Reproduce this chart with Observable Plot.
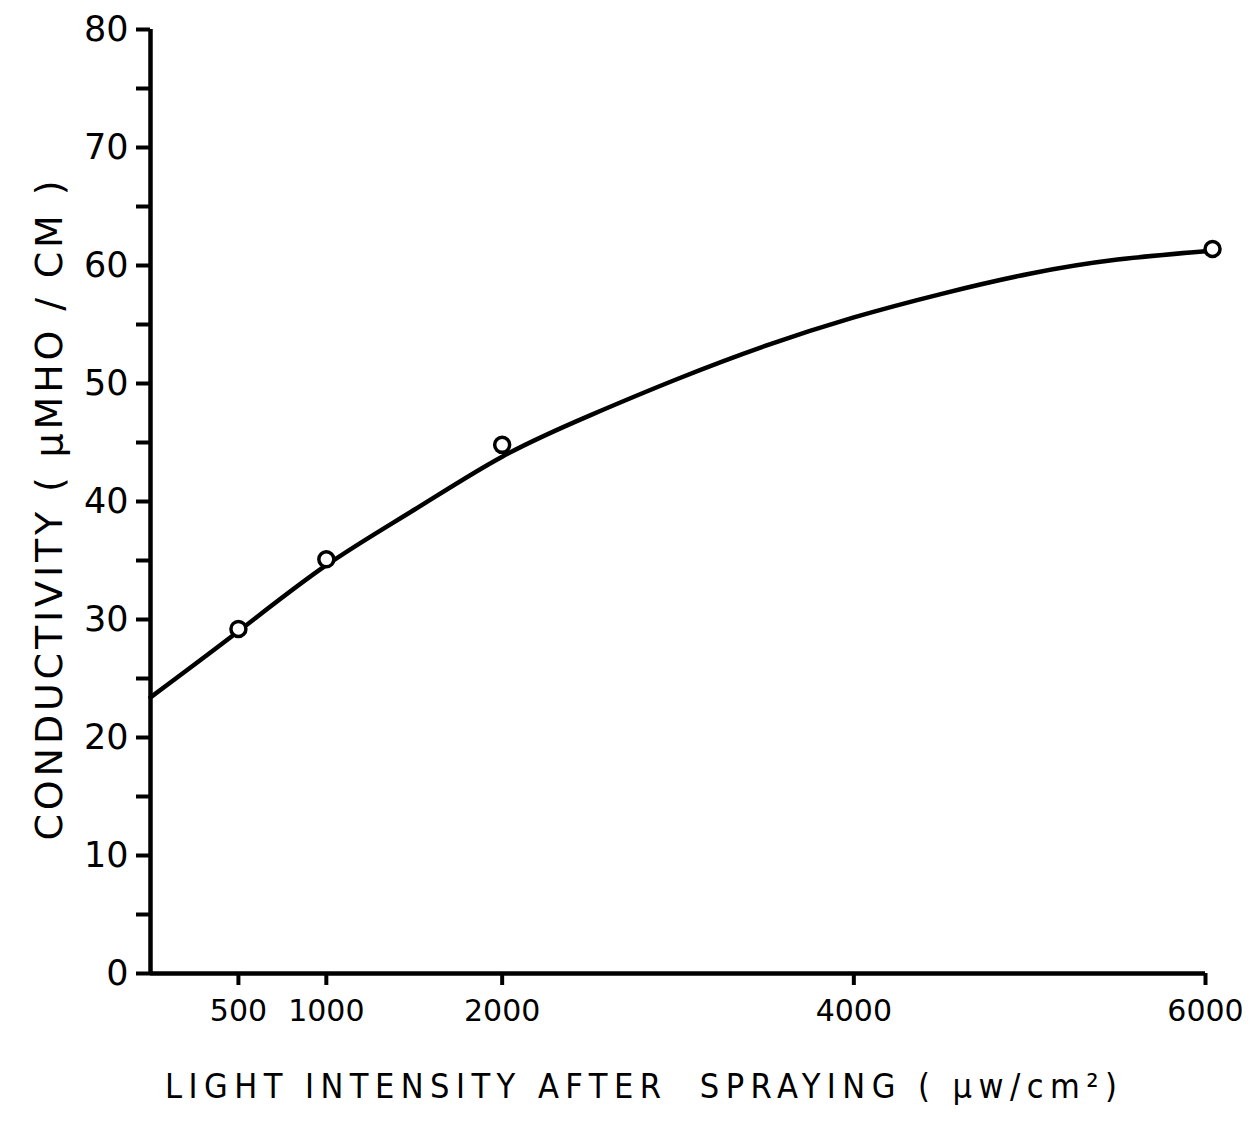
<!DOCTYPE html>
<html>
<head>
<meta charset="utf-8">
<script src="https://cdn.jsdelivr.net/npm/d3@7"></script>
<script src="https://cdn.jsdelivr.net/npm/@observablehq/plot@0.6"></script>
<style>
  html, body { margin: 0; padding: 0; background: #fff; }
  #chart { width: 1250px; height: 1133px; }
</style>
</head>
<body>
<div id="chart"></div>
<script>
// Measured points
const pointX = [500, 1000, 2000, 6040];
const pointY = [29.2, 35.1, 44.8, 61.4];

// Hand-drawn fitted curve
const curveX = [0, 500, 1000, 1500, 2000, 2500, 3000, 3500, 4000, 4500, 5000, 5500, 6000];
const curveY = [23.4, 29.0, 34.6, 39.3, 43.8, 47.3, 50.4, 53.2, 55.6, 57.6, 59.3, 60.5, 61.2];

const xTicks = [500, 1000, 2000, 4000, 6000];
const yTicks = [0, 5, 10, 15, 20, 25, 30, 35, 40, 45, 50, 55, 60, 65, 70, 75, 80];

const xTitle = "LIGHT INTENSITY AFTER  SPRAYING ( \u03bcw/cm\u00b2)";
const yTitle = "CONDUCTIVITY ( \u03bcMHO / CM )";

const points = pointX.map((x, i) => ({x, y: pointY[i]}));
const curve = curveX.map((x, i) => ({x, y: curveY[i]}));

const svg = Plot.plot({
  width: 1250,
  height: 1133,
  marginLeft: 150,
  marginRight: 45,
  marginTop: 29,
  marginBottom: 160,
  style: {fontFamily: "'DejaVu Sans', 'Liberation Sans', sans-serif", color: "#000", background: "#fff"},
  x: {domain: [0, 6000]},
  y: {domain: [0, 80]},
  marks: [
    Plot.axisY({
      ticks: yTicks,
      tickFormat: d => (d % 10 === 0 ? String(d) : ""),
      tickSize: 14,
      tickPadding: 8,
      fontSize: 35,
      strokeWidth: 4,
      label: null
    }),
    Plot.axisX({
      ticks: xTicks,
      tickFormat: d => String(d),
      tickSize: 12,
      tickPadding: 14,
      fontSize: 30,
      strokeWidth: 4,
      label: null
    }),
    Plot.ruleX([0], {y1: 0, y2: 80, stroke: "#000", strokeWidth: 4.5}),
    Plot.ruleY([0], {x1: 0, x2: 6000, stroke: "#000", strokeWidth: 4.5}),
    Plot.line(curve, {x: "x", y: "y", curve: "natural", stroke: "#000", strokeWidth: 4.5}),
    Plot.dot(points, {x: "x", y: "y", r: 7.5, stroke: "#000", strokeWidth: 3.5, fill: "#fff"}),
    Plot.text([xTitle], {
      text: d => d, frameAnchor: "bottom", dy: 124, dx: -37,
      fontSize: 34, fill: "#000", className: "xtitle",
      fontFamily: "'DejaVu Sans Condensed', 'DejaVu Sans', sans-serif"
    }),
    Plot.text([yTitle], {
      text: d => d, frameAnchor: "left", textAnchor: "middle", dx: -101, dy: 9, rotate: -90,
      fontSize: 38, fill: "#000", className: "ytitle"
    })
  ]
});

d3.select(svg).selectAll(".xtitle text").attr("textLength", 952).attr("lengthAdjust", "spacing");
d3.select(svg).selectAll(".ytitle text").attr("textLength", 660).attr("lengthAdjust", "spacing");

document.getElementById("chart").appendChild(svg);
</script>
</body>
</html>
